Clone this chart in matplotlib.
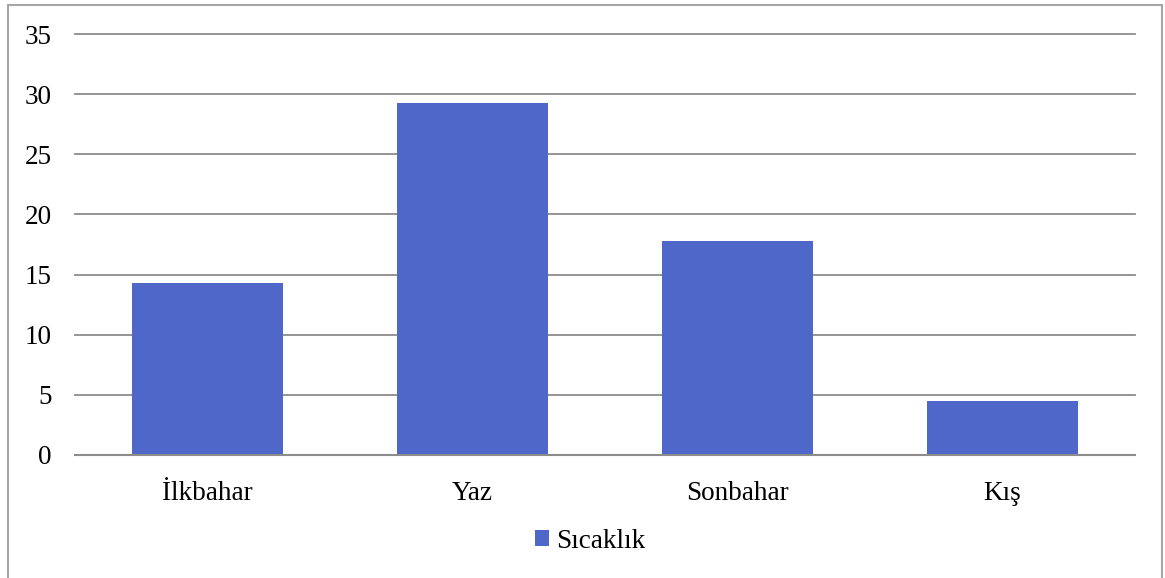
import matplotlib
matplotlib.use("Agg")
import matplotlib.pyplot as plt
from matplotlib.patches import Rectangle
import numpy as np

categories = ["İlkbahar", "Yaz", "Sonbahar", "Kış"]
values = [14.3, 29.3, 17.8, 4.5]
series_name = "Sıcaklık"
yticks = [0, 5, 10, 15, 20, 25, 30, 35]

plt.rcParams['font.family'] = ['Liberation Serif', 'DejaVu Serif']

W, H = 1165, 578
fig = plt.figure(figsize=(W / 100, H / 100), dpi=100)
fig.patch.set_facecolor('white')

# outer border
fig.add_artist(Rectangle((8 / W, -0.05), (1162 - 8) / W, 1.05 - 5 / H,
                         transform=fig.transFigure, fill=False,
                         edgecolor='#a6a6a6', linewidth=1.5))

ax = fig.add_axes([75 / W, 1 - 455 / H, (1135 - 75) / W, (455 - 34) / H])
x = np.arange(len(categories))
ax.bar(x, values, width=0.57, color='#4F67C8', zorder=3, label=series_name)
ax.set_xlim(-0.5, len(categories) - 0.5)
ax.set_ylim(0, 35)
ax.set_yticks(yticks)
ax.set_yticklabels([str(v) for v in yticks])
ax.set_xticks(x)
ax.set_xticklabels(categories)
ax.yaxis.grid(True, color='#8c8c8c', linewidth=1.3, zorder=0)
for gl in ax.get_ygridlines():
    gl.set_clip_on(False)
for s in ['top', 'right', 'left']:
    ax.spines[s].set_visible(False)
ax.spines['bottom'].set_color('#8c8c8c')
ax.spines['bottom'].set_linewidth(1.5)
ax.spines['bottom'].set_zorder(4)
ax.tick_params(axis='both', length=0, labelsize=19.5, colors='black')
ax.tick_params(axis='y', pad=17)
ax.tick_params(axis='x', pad=19)

leg = fig.legend(loc='center', bbox_to_anchor=(590 / W, 1 - 541 / H),
                 frameon=False, fontsize=19.5, handlelength=0.55,
                 handleheight=0.55, handletextpad=0.25)

fig.savefig("out.png", dpi=100)
